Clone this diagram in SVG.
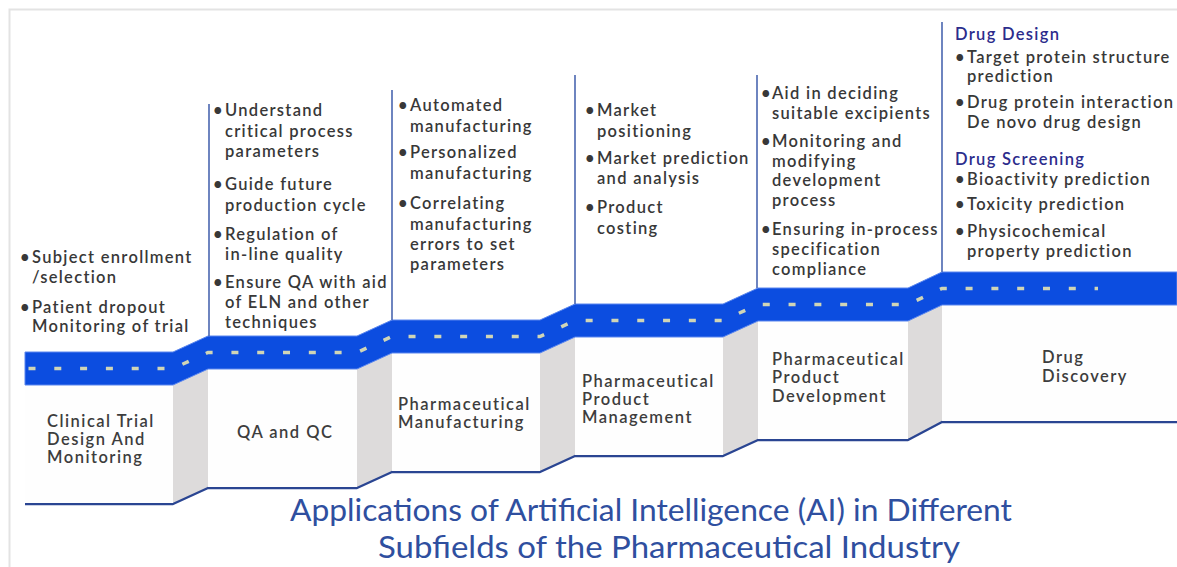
<svg xmlns="http://www.w3.org/2000/svg" width="1177" height="567" viewBox="0 0 1177 567">
  <style>
    .frame { fill: none; stroke: #e3e3e3; stroke-width: 2; }
    .sep { stroke: #4a66b0; stroke-width: 1.6; }
    .box { fill: #fefefe; }
    .side { fill: #dddbdb; }
    .band { fill: #0c4de0; stroke: #5a86ee; stroke-width: 1; stroke-linejoin: round; }
    .lane { fill: none; stroke: #d0d5b6; stroke-width: 3.5; stroke-dasharray: 7 18.8; }
    .edge { fill: none; stroke: #2a4592; stroke-width: 2.4; stroke-linejoin: round; }
    .txt { font-family: Lato, "Open Sans", "Liberation Sans", sans-serif; font-size: 16.5px; font-weight: 600; fill: #383838; letter-spacing: 1.3px; }
    .lbl { font-family: Lato, "Open Sans", "Liberation Sans", sans-serif; font-size: 16.5px; font-weight: 600; fill: #3d3d3d; letter-spacing: 1.5px; }
    .head { font-family: Lato, "Open Sans", "Liberation Sans", sans-serif; font-size: 16.5px; font-weight: 600; fill: #2c2c8c; letter-spacing: 1.3px; }
    .title { font-family: Lato, "Open Sans", "Liberation Sans", sans-serif; font-size: 30px; font-weight: 400; fill: #2f4f9f; }
  </style>

  <!-- page frame -->
  <path class="frame" d="M9.5 567 V9.5 H1177"/>

  <!-- road: side faces, blue band, lane dashes, lower edge -->
  <g id="connectors">
    <polygon class="side" points="173,385 208,369 208,488 173,504"/>
    <polygon class="side" points="357,369 392,353 392,472 357,488"/>
    <polygon class="side" points="540,353 575,337 575,456 540,472"/>
    <polygon class="side" points="723,337 758,321 758,440 723,456"/>
    <polygon class="side" points="908,321 942,305 942,422 908,440"/>
    <path class="band" d="M25 352 H173 L208 336 H357 L392 320 H540 L575 304 H723 L758 288 H908 L942 272 H1177 V305 H942 L908 321 H758 L723 337 H575 L540 353 H392 L357 369 H208 L173 385 H25 Z"/>
    <path class="lane" d="M28.5 368.5 H173 L208 352.5 H357 L392 336.5 H540 L575 320.5 H723 L758 304.5 H908 L942 288.5 H1098"/>
    <path class="edge" d="M25 504 H173 L208 488 H357 L392 472 H540 L575 456 H723 L758 440 H908 L942 422 H1177"/>
  </g>

  <!-- stage 1 -->
  <g id="clinical-trial">
    <rect class="box" x="25" y="386" width="148" height="117"/>
    <text class="lbl" x="47" y="427">Clinical Trial</text>
    <text class="lbl" x="47" y="445">Design And</text>
    <text class="lbl" x="47" y="463">Monitoring</text>
    <text class="txt" x="20" y="263">•</text>
    <text class="txt" x="32" y="263">Subject enrollment</text>
    <text class="txt" x="32" y="283">/selection</text>
    <text class="txt" x="20" y="313">•</text>
    <text class="txt" x="32" y="313">Patient dropout</text>
    <text class="txt" x="32" y="332">Monitoring of trial</text>
  </g>

  <!-- stage 2 -->
  <g id="qa-qc">
    <rect class="box" x="208" y="370" width="149" height="117"/>
    <line class="sep" x1="209" y1="104" x2="209" y2="336"/>
    <text class="lbl" x="237" y="438">QA and QC</text>
    <text class="txt" x="213" y="116">•</text>
    <text class="txt" x="225" y="116">Understand</text>
    <text class="txt" x="225" y="137">critical process</text>
    <text class="txt" x="225" y="157">parameters</text>
    <text class="txt" x="213" y="190">•</text>
    <text class="txt" x="225" y="190">Guide future</text>
    <text class="txt" x="225" y="211">production cycle</text>
    <text class="txt" x="213" y="240">•</text>
    <text class="txt" x="225" y="240">Regulation of</text>
    <text class="txt" x="225" y="260">in-line quality</text>
    <text class="txt" x="213" y="288">•</text>
    <text class="txt" x="225" y="288">Ensure QA with aid</text>
    <text class="txt" x="225" y="308">of ELN and other</text>
    <text class="txt" x="225" y="328">techniques</text>
  </g>

  <!-- stage 3 -->
  <g id="manufacturing">
    <rect class="box" x="392" y="354" width="148" height="117"/>
    <line class="sep" x1="392" y1="90" x2="392" y2="320"/>
    <text class="lbl" x="398" y="410">Pharmaceutical</text>
    <text class="lbl" x="398" y="428">Manufacturing</text>
    <text class="txt" x="398" y="111">•</text>
    <text class="txt" x="410" y="111">Automated</text>
    <text class="txt" x="410" y="132">manufacturing</text>
    <text class="txt" x="398" y="158">•</text>
    <text class="txt" x="410" y="158">Personalized</text>
    <text class="txt" x="410" y="179">manufacturing</text>
    <text class="txt" x="398" y="209">•</text>
    <text class="txt" x="410" y="209">Correlating</text>
    <text class="txt" x="410" y="230">manufacturing</text>
    <text class="txt" x="410" y="250">errors to set</text>
    <text class="txt" x="410" y="270">parameters</text>
  </g>

  <!-- stage 4 -->
  <g id="product-management">
    <rect class="box" x="575" y="338" width="148" height="117"/>
    <line class="sep" x1="575" y1="75" x2="575" y2="304"/>
    <text class="lbl" x="582" y="387">Pharmaceutical</text>
    <text class="lbl" x="582" y="405">Product</text>
    <text class="lbl" x="582" y="423">Management</text>
    <text class="txt" x="585" y="116">•</text>
    <text class="txt" x="597" y="116">Market</text>
    <text class="txt" x="597" y="137">positioning</text>
    <text class="txt" x="585" y="164">•</text>
    <text class="txt" x="597" y="164">Market prediction</text>
    <text class="txt" x="597" y="184">and analysis</text>
    <text class="txt" x="585" y="213">•</text>
    <text class="txt" x="597" y="213">Product</text>
    <text class="txt" x="597" y="234">costing</text>
  </g>

  <!-- stage 5 -->
  <g id="product-development">
    <rect class="box" x="758" y="322" width="150" height="117"/>
    <line class="sep" x1="757" y1="75" x2="757" y2="288"/>
    <text class="lbl" x="772" y="365">Pharmaceutical</text>
    <text class="lbl" x="772" y="383">Product</text>
    <text class="lbl" x="772" y="402">Development</text>
    <text class="txt" x="761" y="99">•</text>
    <text class="txt" x="772" y="99">Aid in deciding</text>
    <text class="txt" x="772" y="119">suitable excipients</text>
    <text class="txt" x="761" y="147">•</text>
    <text class="txt" x="772" y="147">Monitoring and</text>
    <text class="txt" x="772" y="167">modifying</text>
    <text class="txt" x="772" y="186">development</text>
    <text class="txt" x="772" y="206">process</text>
    <text class="txt" x="761" y="235">•</text>
    <text class="txt" x="772" y="235">Ensuring in-process</text>
    <text class="txt" x="772" y="255">specification</text>
    <text class="txt" x="772" y="275">compliance</text>
  </g>

  <!-- stage 6 -->
  <g id="drug-discovery">
    <rect class="box" x="942" y="306" width="235" height="115"/>
    <line class="sep" x1="942" y1="22" x2="942" y2="272"/>
    <text class="lbl" x="1042" y="363">Drug</text>
    <text class="lbl" x="1042" y="382">Discovery</text>
    <text class="head" x="955" y="40">Drug Design</text>
    <text class="txt" x="955" y="63">•</text>
    <text class="txt" x="967" y="63">Target protein structure</text>
    <text class="txt" x="967" y="82">prediction</text>
    <text class="txt" x="955" y="108">•</text>
    <text class="txt" x="967" y="108">Drug protein interaction</text>
    <text class="txt" x="967" y="128">De novo drug design</text>
    <text class="head" x="955" y="165">Drug Screening</text>
    <text class="txt" x="955" y="185">•</text>
    <text class="txt" x="967" y="185">Bioactivity prediction</text>
    <text class="txt" x="955" y="210">•</text>
    <text class="txt" x="967" y="210">Toxicity prediction</text>
    <text class="txt" x="955" y="237">•</text>
    <text class="txt" x="967" y="237">Physicochemical</text>
    <text class="txt" x="967" y="257">property prediction</text>
  </g>

  <!-- caption -->
  <g id="title">
    <text class="title" x="290" y="521" textLength="722" lengthAdjust="spacingAndGlyphs">Applications of Artificial Intelligence (AI) in Different</text>
    <text class="title" x="378" y="558" textLength="582" lengthAdjust="spacingAndGlyphs">Subfields of the Pharmaceutical Industry</text>
  </g>
</svg>
